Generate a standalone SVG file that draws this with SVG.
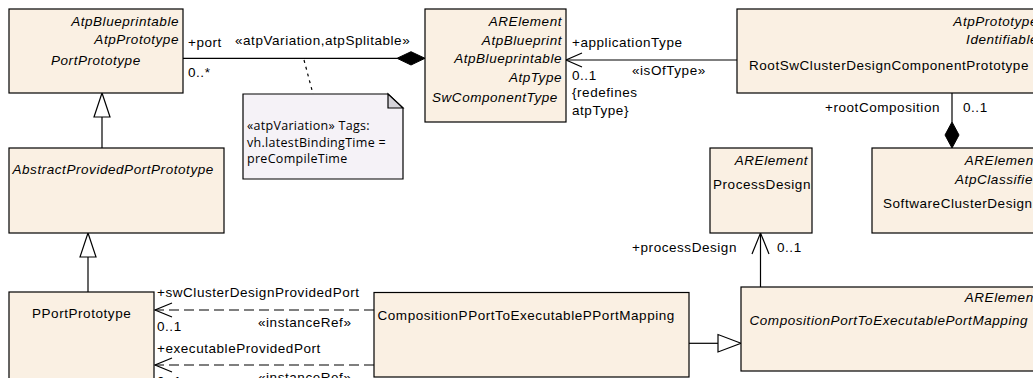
<svg xmlns="http://www.w3.org/2000/svg" width="1033" height="378" viewBox="0 0 1033 378">
<style>
text{font-family:"Liberation Sans",Arial,sans-serif;font-size:13.5px;letter-spacing:0.55px;fill:#000}
.i{font-style:italic}
.e{text-anchor:end}
.box{fill:#FAF0E3;stroke:#000;stroke-width:1.2}
.ln{stroke:#000;stroke-width:1.2;fill:none}
.dash{stroke:#000;stroke-width:1.2;fill:none;stroke-dasharray:10,5}
.gen{fill:#fff;stroke:#000;stroke-width:1.2}
.note text{font-family:"Open Sans","DejaVu Sans",sans-serif;font-size:12.5px;letter-spacing:0.3px}
</style>
<rect width="1033" height="378" fill="#fff"/>
<g id="connectors">
  <line class="ln" x1="183" y1="58.3" x2="397" y2="58.3"/>
  <polygon points="397,58.3 411,51.7 425,58.3 411,65" fill="#000" stroke="#000"/>
  <text x="188" y="46.7">+port</text>
  <text x="188" y="76.7">0..*</text>
  <text x="235" y="45">«atpVariation,atpSplitable»</text>
  <line x1="304" y1="60" x2="313" y2="94" stroke="#000" stroke-width="1.2" stroke-dasharray="3,4"/>
  <line class="ln" x1="102" y1="117" x2="102" y2="148"/>
  <polygon class="gen" points="102,93 94,117 110,117"/>
  <line class="ln" x1="88" y1="257" x2="88" y2="292"/>
  <polygon class="gen" points="88,233 80,257 96,257"/>
  <line class="ln" x1="566" y1="60" x2="737" y2="60"/>
  <polyline class="ln" points="582,53 566,60 582,67"/>
  <text x="572" y="46.7">+applicationType</text>
  <text x="572" y="80">0..1</text>
  <text x="632" y="75">«isOfType»</text>
  <text x="572" y="96.7">{redefines</text>
  <text x="572" y="115">atpType}</text>
  <line class="ln" x1="952" y1="93" x2="952" y2="122"/>
  <polygon points="952,122 959,135 952,148 945,135" fill="#000" stroke="#000"/>
  <text class="e" x="940" y="111.7">+rootComposition</text>
  <text x="963" y="111.7">0..1</text>
  <line class="ln" x1="760.5" y1="233" x2="760.5" y2="287"/>
  <polyline class="ln" points="752,254 760.5,233 769,254"/>
  <text class="e" x="737" y="251.7">+processDesign</text>
  <text x="777" y="252">0..1</text>
  <line class="ln" x1="689" y1="343.3" x2="718" y2="343.3"/>
  <polygon class="gen" points="741,343.3 718,334.5 718,352"/>
  <line class="dash" x1="374" y1="310" x2="155" y2="310"/>
  <polyline class="ln" points="172,303 155,310 172,317"/>
  <text x="157" y="297">+swClusterDesignProvidedPort</text>
  <text x="157" y="331">0..1</text>
  <text x="258" y="327">«instanceRef»</text>
  <line class="dash" x1="374" y1="365" x2="155" y2="365"/>
  <polyline class="ln" points="172,358 155,365 172,372"/>
  <text x="157" y="353">+executableProvidedPort</text>
  <text x="157" y="386">0..1</text>
  <text x="258" y="382">«instanceRef»</text>
</g>
<g id="PortPrototype">
  <rect class="box" x="9" y="9" width="174" height="84"/>
  <text class="i e" x="179" y="26">AtpBlueprintable</text>
  <text class="i e" x="179" y="44">AtpPrototype</text>
  <text class="i" x="51" y="65">PortPrototype</text>
</g>
<g id="note" class="note">
  <polygon points="243,94 388,94 403,108 403,179 243,179" fill="#F5F2F7" stroke="#000" stroke-width="1.2"/>
  <polygon points="388,94 388,108 403,108" fill="#D5D3D9" stroke="#000" stroke-width="1.2"/>
  <text x="247" y="130">«atpVariation» Tags:</text>
  <text x="247" y="146.5">vh.latestBindingTime =</text>
  <text x="247" y="162.5">preCompileTime</text>
</g>
<g id="SwComponentType">
  <rect class="box" x="425" y="9" width="141" height="113"/>
  <text class="i e" x="562" y="26">ARElement</text>
  <text class="i e" x="562" y="44.5">AtpBlueprint</text>
  <text class="i e" x="562" y="63">AtpBlueprintable</text>
  <text class="i e" x="562" y="81.5">AtpType</text>
  <text class="i" x="432" y="101.5">SwComponentType</text>
</g>
<g id="RootSwClusterDesignComponentPrototype">
  <rect class="box" x="737" y="9" width="310" height="84"/>
  <text class="i e" x="1038" y="26">AtpPrototype</text>
  <text class="i e" x="1038" y="44">Identifiable</text>
  <text x="749" y="70">RootSwClusterDesignComponentPrototype</text>
</g>
<g id="AbstractProvidedPortPrototype">
  <rect class="box" x="9" y="148" width="215" height="85"/>
  <text class="i" x="12.5" y="174">AbstractProvidedPortPrototype</text>
</g>
<g id="ProcessDesign">
  <rect class="box" x="710" y="148" width="102" height="85"/>
  <text class="i e" x="808" y="165">ARElement</text>
  <text x="713" y="188.5">ProcessDesign</text>
</g>
<g id="SoftwareClusterDesign">
  <rect class="box" x="872" y="148" width="170" height="85"/>
  <text class="i e" x="1038" y="165">ARElement</text>
  <text class="i e" x="1038" y="183.5">AtpClassifier</text>
  <text x="883" y="207.5">SoftwareClusterDesign</text>
</g>
<g id="PPortPrototype">
  <rect class="box" x="9" y="292" width="145" height="100"/>
  <text x="32" y="318">PPortPrototype</text>
</g>
<g id="CompositionPPortToExecutablePPortMapping">
  <rect class="box" x="374" y="292.5" width="315" height="84.5"/>
  <text x="377.5" y="319.5">CompositionPPortToExecutablePPortMapping</text>
</g>
<g id="CompositionPortToExecutablePortMapping">
  <rect class="box" x="741" y="287" width="300" height="84"/>
  <text class="i e" x="1038" y="302">ARElement</text>
  <text class="i" x="749.5" y="325">CompositionPortToExecutablePortMapping</text>
</g>
</svg>
